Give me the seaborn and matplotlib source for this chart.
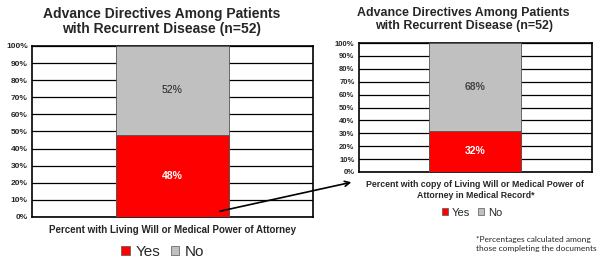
import pandas as pd
import seaborn as sns
import matplotlib.pyplot as plt
from matplotlib.patches import Patch

# data
left_category = ["Percent with Living Will or Medical Power of Attorney"]
left_yes = [48]
left_no = [52]
right_category = ["Percent with copy of Living Will or Medical Power of\nAttorney in Medical Record*"]
right_yes = [32]
right_no = [68]
y_ticks = list(range(0, 101, 10))
y_tick_labels = [f"{t}%" for t in y_ticks]
title_text = "Advance Directives Among Patients\nwith Recurrent Disease (n=52)"
footnote = "*Percentages calculated among\nthose completing the documents"

RED = "#ff0000"
GRAY = "#c0c0c0"

sns.set_style("white")
plt.rcParams['font.family'] = ['Liberation Sans', 'DejaVu Sans']

fig = plt.figure(figsize=(6.04, 2.61), dpi=100)
ax1 = fig.add_axes([0.053, 0.169, 0.465, 0.655])
ax2 = fig.add_axes([0.594, 0.341, 0.386, 0.494])


def draw(ax, cats, yes, no, width, tick_fs, label_fs, no_color_txt, no_bold):
    df = pd.DataFrame({"cat": cats, "yes": yes, "total": [a + b for a, b in zip(yes, no)], "no": no})
    sns.barplot(data=df, x="cat", y="total", color=GRAY, width=width, saturation=1,
                edgecolor="#555555", linewidth=0.6, ax=ax, zorder=3)
    sns.barplot(data=df, x="cat", y="yes", color=RED, width=width, saturation=1,
                edgecolor="#555555", linewidth=0.6, ax=ax, zorder=3)
    ax.set_ylim(0, 100)
    ax.set_xlim(-0.5, 0.5)
    ax.set_yticks(y_ticks)
    ax.set_yticklabels(y_tick_labels, fontsize=tick_fs, fontweight="bold")
    ax.tick_params(axis="y", length=0, pad=3)
    ax.tick_params(axis="x", length=0)
    ax.set_xticks([])
    ax.set_ylabel("")
    ax.set_xlabel(cats[0], fontsize=label_fs, fontweight="bold", labelpad=6)
    ax.grid(axis="y", color="black", linewidth=0.9, zorder=0)
    for s in ax.spines.values():
        s.set_color("black")
        s.set_linewidth(1.2)
    ax.text(0, no[0] / 2 + yes[0], f"{no[0]}%", ha="center", va="center",
            fontsize=7.5, color=no_color_txt, fontweight=no_bold, zorder=5)
    ax.text(0, yes[0] / 2, f"{yes[0]}%", ha="center", va="center",
            fontsize=7.5, color="white", fontweight="bold", zorder=5)


draw(ax1, left_category, left_yes, left_no, 0.40, 6, 7, "#222222", "normal")
draw(ax2, right_category, right_yes, right_no, 0.395, 5.5, 6.3, "#444444", "bold")

ax1.set_title(title_text, fontsize=10, fontweight="bold", pad=9, linespacing=1.15, x=0.46)
ax2.set_title(title_text, fontsize=8.9, fontweight="bold", pad=10, linespacing=1.15, x=0.45)

handles = [Patch(facecolor=RED, edgecolor="#555555", linewidth=0.5, label="Yes"),
           Patch(facecolor=GRAY, edgecolor="#555555", linewidth=0.5, label="No")]
ax1.legend(handles=handles, loc="upper center", bbox_to_anchor=(0.465, -0.12), ncol=2,
           frameon=False, fontsize=11, handlelength=0.55, handleheight=0.55,
           handletextpad=0.35, columnspacing=0.7, borderpad=0)
ax2.legend(handles=handles, loc="upper center", bbox_to_anchor=(0.485, -0.235), ncol=2,
           frameon=False, fontsize=8, handlelength=0.6, handleheight=0.6,
           handletextpad=0.3, columnspacing=0.7, borderpad=0)

fig.text(0.788, 0.035, footnote, fontsize=6.0, family=["Lato", "DejaVu Sans"],
         ha="left", va="bottom", linespacing=1.3)

ax2.annotate("", xy=(-0.02, -0.075), xycoords="axes fraction",
             xytext=(0.16, 3), textcoords=ax1.transData,
             arrowprops=dict(arrowstyle="->", lw=1.2, color="black", mutation_scale=9),
             zorder=10)

fig.savefig("out.png", dpi=100)
